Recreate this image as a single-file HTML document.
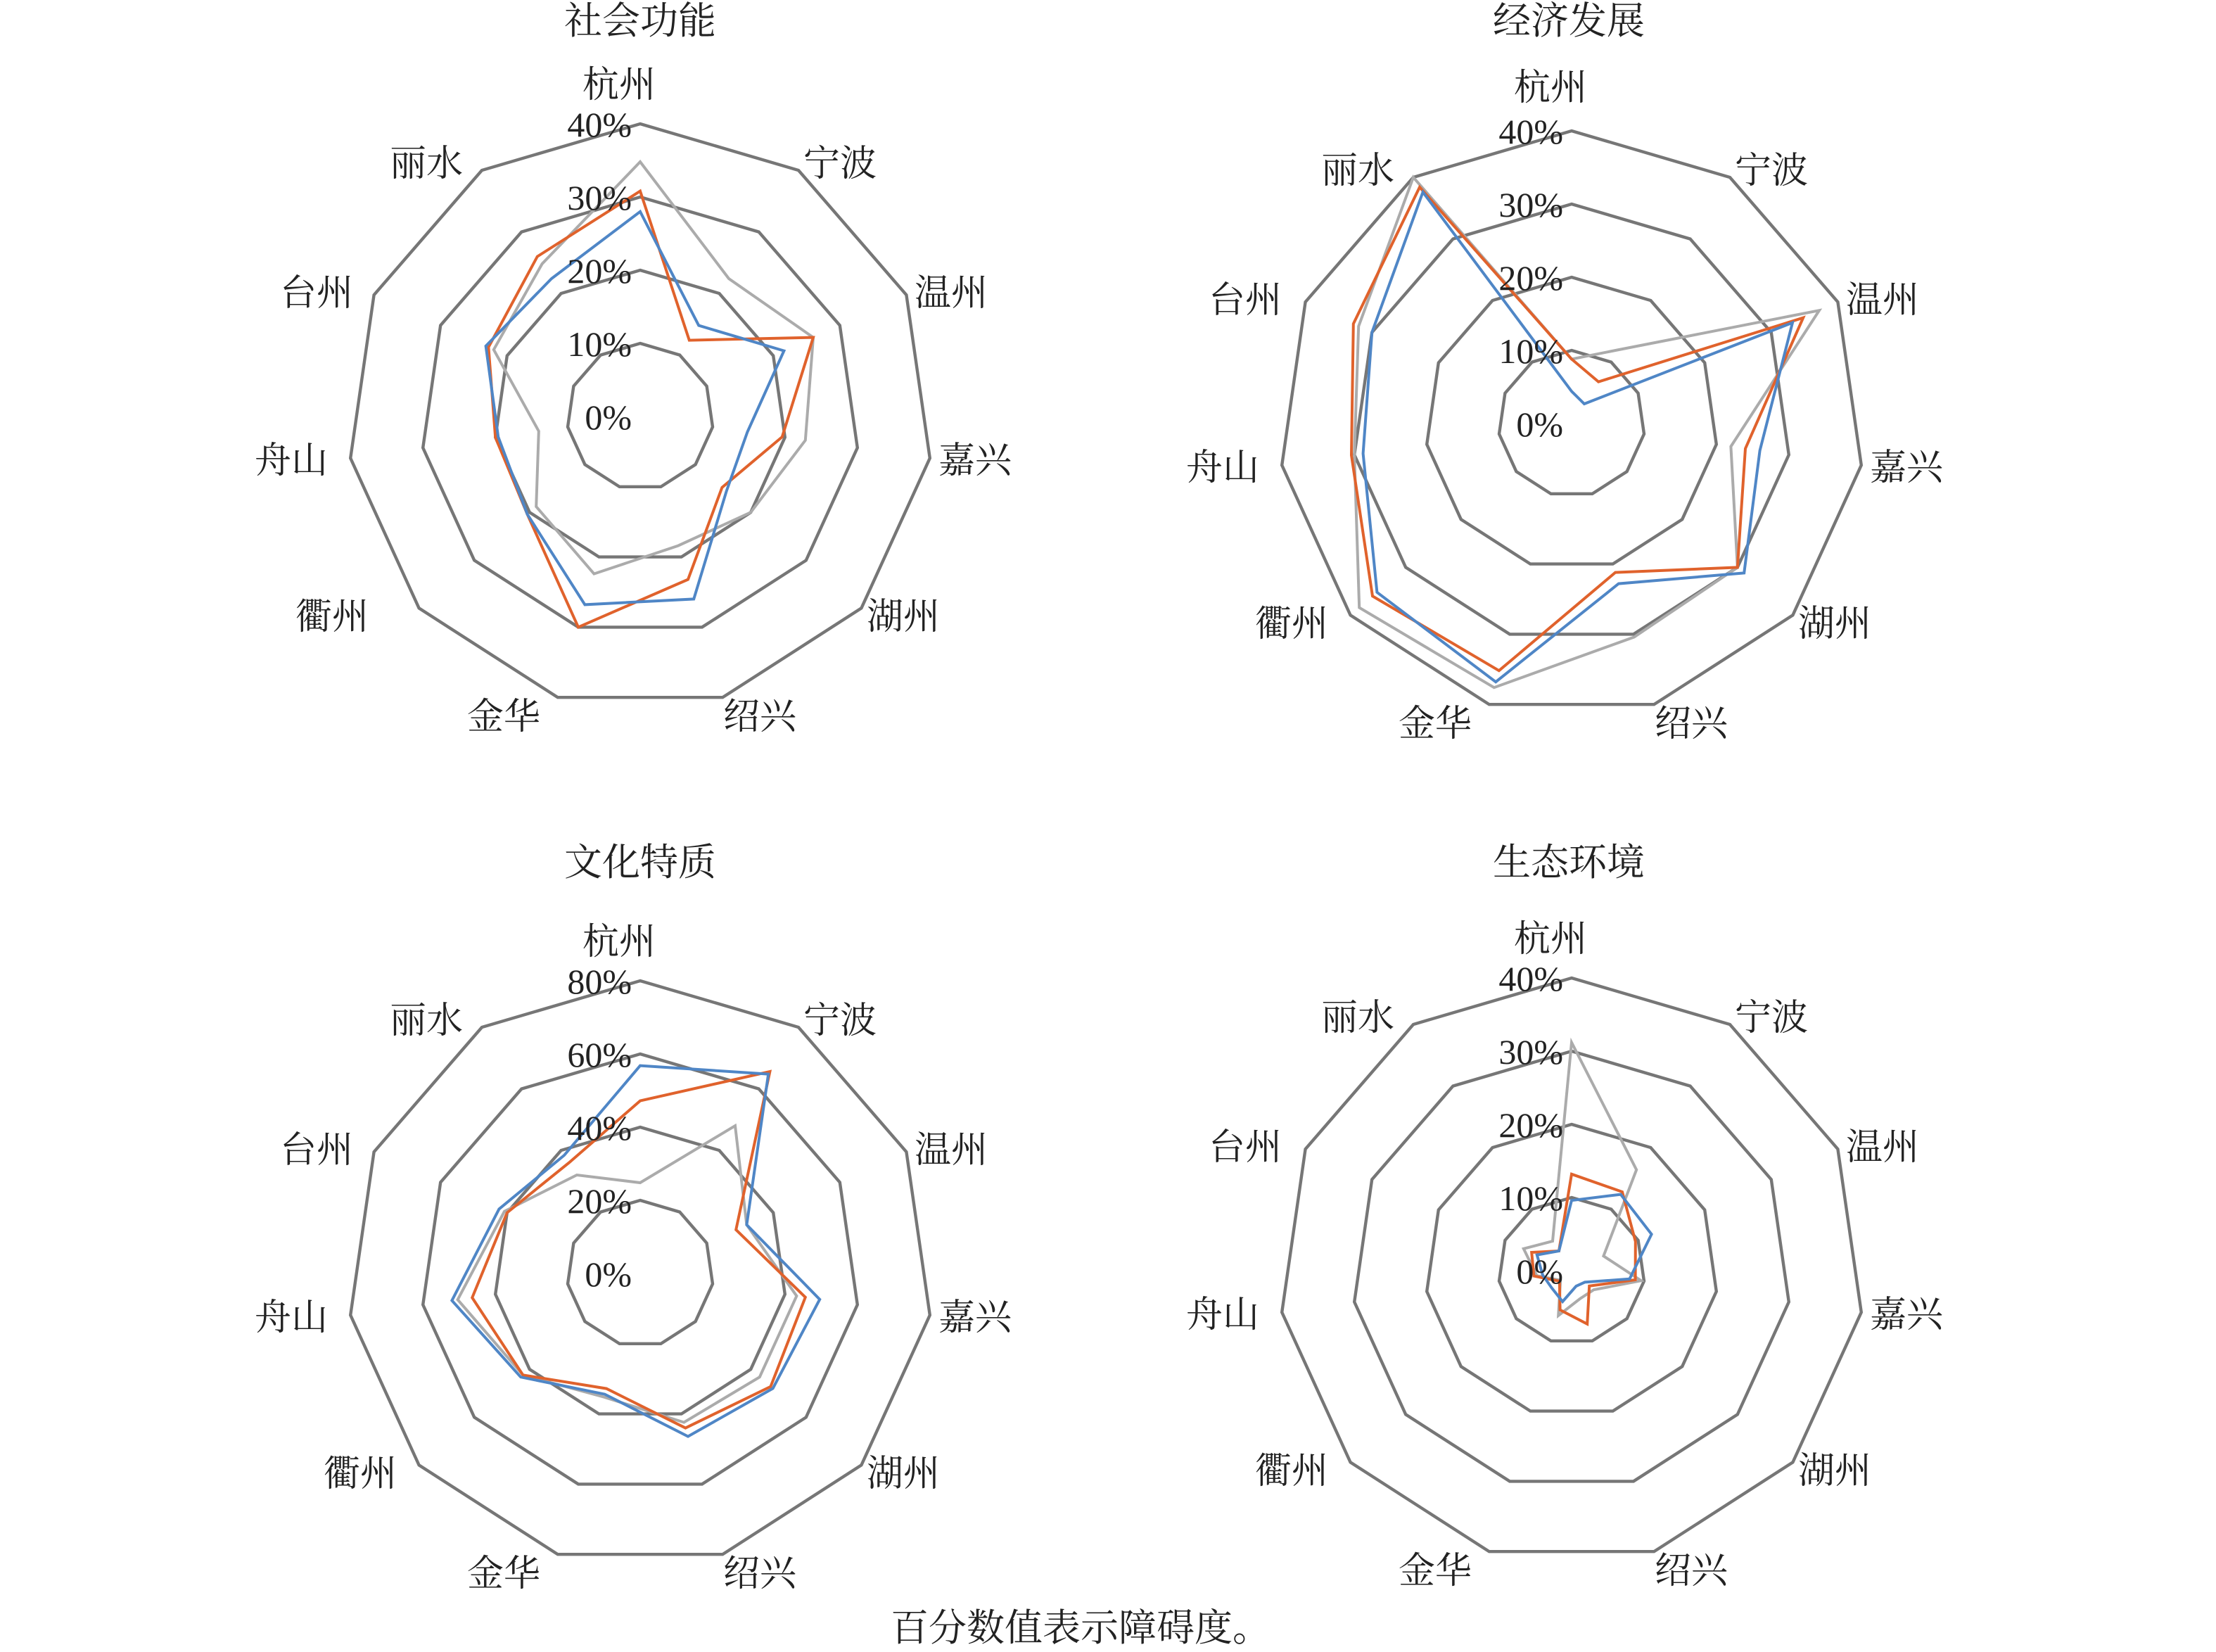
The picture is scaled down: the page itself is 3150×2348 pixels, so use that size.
<!DOCTYPE html>
<html><head><meta charset="utf-8">
<style>
html,body{margin:0;padding:0;background:#fff;}
svg{display:block;}
text{font-family:"Liberation Serif","Noto Serif CJK SC",serif;fill:#222;}
.cl{font-size:26px;text-anchor:middle;}
.tk{font-size:25px;text-anchor:end;}
.tt{font-size:27px;text-anchor:middle;}
</style></head>
<body>
<svg id="s" width="3150" height="2348" viewBox="0 0 1575 1174" xmlns="http://www.w3.org/2000/svg">
<g id="grid"></g>
<text class="tt" x="455" y="24">社会功能</text>
<text class="tt" x="1115" y="24">经济发展</text>
<text class="tt" x="455" y="622">文化特质</text>
<text class="tt" x="1115" y="622">生态环境</text>
<text class="tt" x="768" y="1166">百分数值表示障碍度。</text>

<g transform="translate(455,296)">
<text class="cl" x="-15" y="-227">杭州</text><text class="cl" x="142" y="-171">宁波</text><text class="cl" x="221" y="-79">温州</text><text class="cl" x="238" y="40">嘉兴</text><text class="cl" x="187" y="151">湖州</text><text class="cl" x="85" y="222">绍兴</text><text class="cl" x="-97" y="222">金华</text><text class="cl" x="-219" y="151">衢州</text><text class="cl" x="-248" y="40">舟山</text><text class="cl" x="-230" y="-79">台州</text><text class="cl" x="-152" y="-171">丽水</text>
<text class="tk" x="-6" y="-199">40%</text><text class="tk" x="-6" y="-147">30%</text><text class="tk" x="-6" y="-95">20%</text><text class="tk" x="-6" y="-43">10%</text><text class="tk" x="-6" y="9">0%</text>
</g>
<g transform="translate(1117,301)">
<text class="cl" x="-15" y="-230">杭州</text><text class="cl" x="142" y="-171">宁波</text><text class="cl" x="221" y="-79">温州</text><text class="cl" x="238" y="40">嘉兴</text><text class="cl" x="187" y="151">湖州</text><text class="cl" x="85" y="222">绍兴</text><text class="cl" x="-97" y="222">金华</text><text class="cl" x="-199" y="151">衢州</text><text class="cl" x="-248" y="40">舟山</text><text class="cl" x="-232" y="-79">台州</text><text class="cl" x="-152" y="-171">丽水</text>
<text class="tk" x="-6" y="-199">40%</text><text class="tk" x="-6" y="-147">30%</text><text class="tk" x="-6" y="-95">20%</text><text class="tk" x="-6" y="-43">10%</text><text class="tk" x="-6" y="9">0%</text>
</g>
<g transform="translate(455,905)">
<text class="cl" x="-15" y="-227">杭州</text><text class="cl" x="142" y="-171">宁波</text><text class="cl" x="221" y="-79">温州</text><text class="cl" x="238" y="40">嘉兴</text><text class="cl" x="187" y="151">湖州</text><text class="cl" x="85" y="222">绍兴</text><text class="cl" x="-97" y="222">金华</text><text class="cl" x="-199" y="151">衢州</text><text class="cl" x="-248" y="40">舟山</text><text class="cl" x="-230" y="-79">台州</text><text class="cl" x="-152" y="-171">丽水</text>
<text class="tk" x="-6" y="-199">80%</text><text class="tk" x="-6" y="-147">60%</text><text class="tk" x="-6" y="-95">40%</text><text class="tk" x="-6" y="-43">20%</text><text class="tk" x="-6" y="9">0%</text>
</g>
<g transform="translate(1117,903)">
<text class="cl" x="-15" y="-227">杭州</text><text class="cl" x="142" y="-171">宁波</text><text class="cl" x="221" y="-79">温州</text><text class="cl" x="238" y="40">嘉兴</text><text class="cl" x="187" y="151">湖州</text><text class="cl" x="85" y="222">绍兴</text><text class="cl" x="-97" y="222">金华</text><text class="cl" x="-199" y="151">衢州</text><text class="cl" x="-248" y="40">舟山</text><text class="cl" x="-232" y="-79">台州</text><text class="cl" x="-152" y="-171">丽水</text>
<text class="tk" x="-6" y="-199">40%</text><text class="tk" x="-6" y="-147">30%</text><text class="tk" x="-6" y="-95">20%</text><text class="tk" x="-6" y="-43">10%</text><text class="tk" x="-6" y="9">0%</text>
</g>
</svg>
<script>
(function(){
var NS="http://www.w3.org/2000/svg",g=document.getElementById("grid"),R=208;
function pts(cx,cy,vals){var a=[];for(var i=0;i<11;i++){var t=2*Math.PI*i/11;a.push((cx+vals[i]*R*Math.sin(t)).toFixed(1)+","+(cy-vals[i]*R*Math.cos(t)).toFixed(1));}return a.join(" ");}
function poly(p,c,w){var e=document.createElementNS(NS,"polygon");e.setAttribute("points",p);e.setAttribute("fill","none");e.setAttribute("stroke",c);e.setAttribute("stroke-width",w);e.setAttribute("stroke-linejoin","miter");g.appendChild(e);}
var charts=[
 {c:[455,296],gray:[.87,.56,.65,.57,.5,.46,.56,.47,.35,.55,.62],org:[.77,.31,.65,.49,.37,.58,.75,.51,.5,.57,.65],blu:[.7,.37,.54,.37,.39,.65,.67,.51,.49,.58,.56]},
 {c:[1117,301],gray:[.22,.3,.93,.55,.75,.76,.94,.96,.75,.8,1.0],org:[.22,.17,.87,.6,.75,.53,.88,.9,.76,.82,.96],blu:[.11,.08,.83,.65,.78,.57,.92,.88,.72,.75,.94]},
 {c:[455,905],gray:[.31,.6,.4,.54,.54,.53,.44,.53,.63,.51,.4],org:[.59,.82,.36,.57,.59,.55,.41,.53,.58,.5,.45],blu:[.71,.81,.4,.62,.6,.58,.43,.54,.65,.53,.48]},
 {c:[1117,903],gray:[.78,.41,.12,.24,.1,.1,.16,.05,.12,.18,.12],org:[.33,.32,.24,.22,.08,.19,.14,.055,.13,.15,.08],blu:[.24,.31,.3,.2,.06,.055,.11,.09,.1,.13,.08]}
];
charts.forEach(function(ch){
 for(var k=1;k<=4;k++){var v=[];for(var i=0;i<11;i++)v.push(k/4);poly(pts(ch.c[0],ch.c[1],v),"#767676",2.2);}
 poly(pts(ch.c[0],ch.c[1],ch.gray),"#ababab",2);
 poly(pts(ch.c[0],ch.c[1],ch.org),"#e0622c",2);
 poly(pts(ch.c[0],ch.c[1],ch.blu),"#4f86c6",2);
});
})();
</script>
</body></html>
